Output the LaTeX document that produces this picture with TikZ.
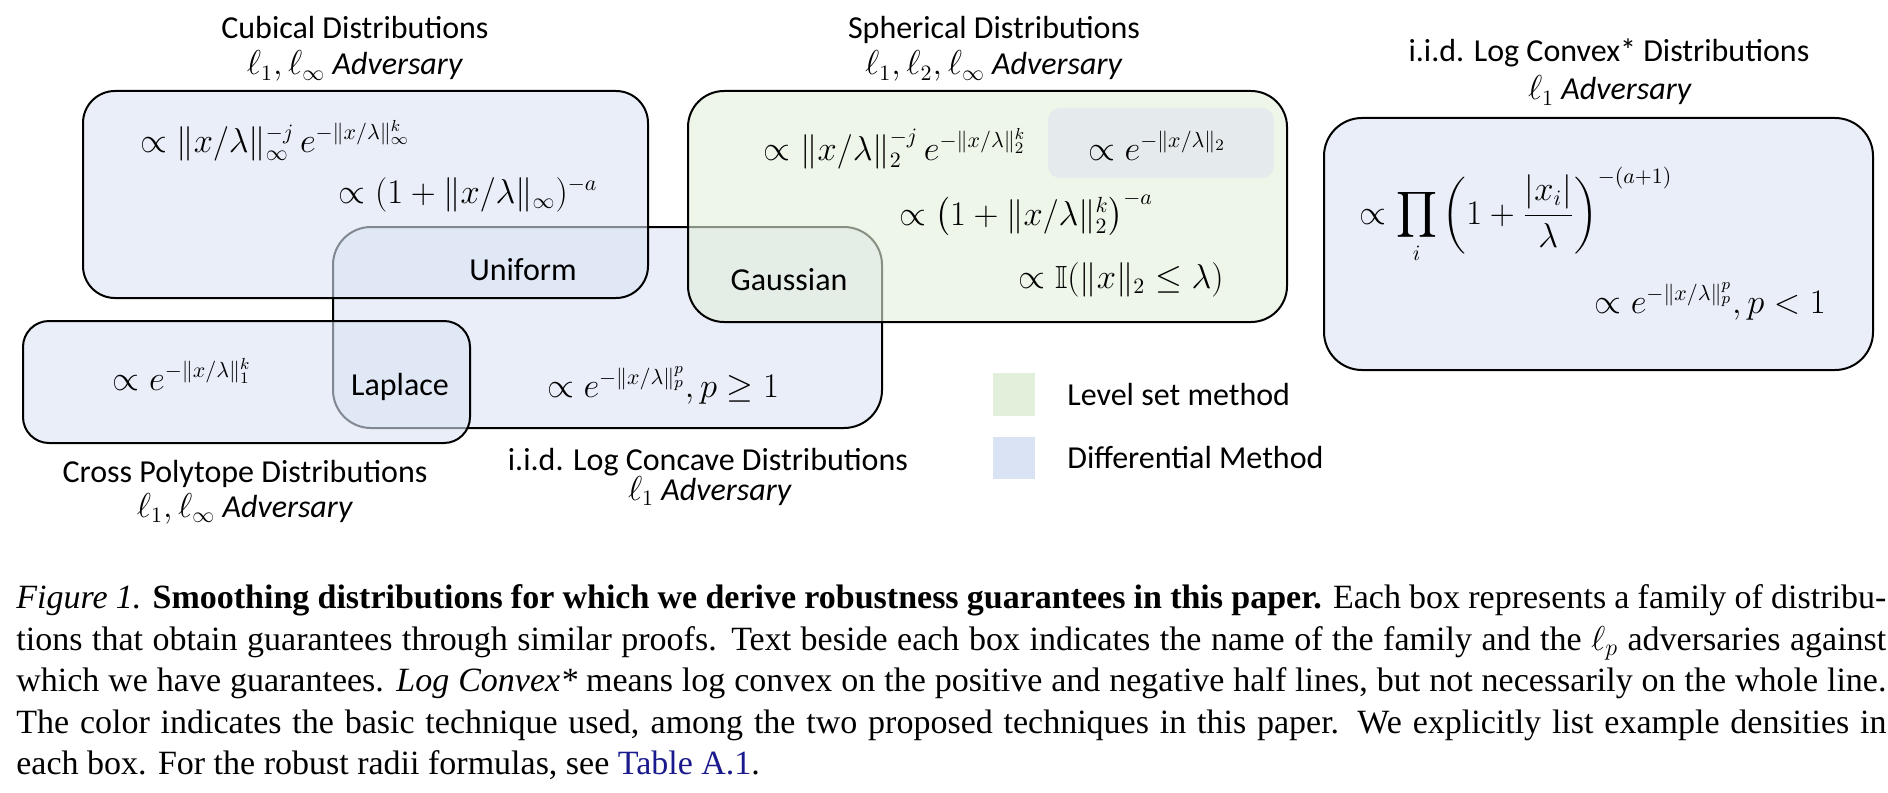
\documentclass[tikz,border=0pt]{standalone}
\usepackage{amsmath,amssymb}
\usepackage{fontspec}
\setmainfont{Liberation Serif}
\newfontfamily\calib{Carlito}
\definecolor{bluefill}{HTML}{DAE3F3}
\definecolor{greenfill}{HTML}{E2EFDA}
\definecolor{grayfill}{HTML}{E5EAEC}
\definecolor{linkblue}{HTML}{1A1A8C}
\tikzset{
  fam/.style={draw=black, line width=1pt},
  over/.style={fam, fill opacity=0.6},
  lbl/.style={font=\calib\fontsize{16}{19}\selectfont, inner sep=0pt, anchor=base},
  fm/.style={font=\fontsize{16}{19}\selectfont, inner sep=0pt, anchor=base},
  capl/.style={font=\fontsize{17}{20.75}\selectfont, inner sep=0pt, anchor=base west},
}
\begin{document}
\begin{tikzpicture}[x=0.5pt,y=-0.5pt]
\useasboundingbox (0,0) rectangle (1888,792);
% boxes
\draw[fam, fill=bluefill!60, rounded corners=19pt] (333,227) rectangle (882,428);
\draw[over, fill=bluefill, rounded corners=16pt] (83,91) rectangle (648,298);
\draw[over, fill=bluefill, rounded corners=13pt] (23,321) rectangle (470,443);
\draw[over, fill=greenfill, rounded corners=18pt] (688,91) rectangle (1287,322);
\fill[grayfill, rounded corners=6pt] (1048,108) rectangle (1274,178);
\draw[fam, fill=bluefill!60, rounded corners=19pt] (1324,118) rectangle (1873,370);
% legend
\fill[greenfill] (993,373) rectangle (1035,416);
\fill[bluefill] (993,437) rectangle (1035,479);
\node[lbl, anchor=base west] (lg1) at (1067,405) {Level set method};
\node[lbl, anchor=base west] (lg2) at (1067,468) {Differential Method};
% family labels
\node[lbl] (cub1) at (355,39) {Cubical Distributions};
\node[lbl] (cub2) at (355,75) {$\ell_1,\ell_\infty$ \textit{Adversary}};
\node[lbl] (sph1) at (994,39) {Spherical Distributions};
\node[lbl] (sph2) at (994,75) {$\ell_1,\ell_2,\ell_\infty$ \textit{Adversary}};
\node[lbl] (lcx1) at (1609,62) {i.i.d. Log Convex* Distributions};
\node[lbl] (lcx2) at (1610,100) {$\ell_1$ \textit{Adversary}};
\node[lbl] (crs1) at (245,482) {Cross Polytope Distributions};
\node[lbl] (crs2) at (245,517) {$\ell_1,\ell_\infty$ \textit{Adversary}};
\node[lbl] (lcv1) at (708,470) {i.i.d. Log Concave Distributions};
\node[lbl] (lcv2) at (710,500) {$\ell_1$ \textit{Adversary}};
% names
\node[lbl] (unif) at (523,280) {Uniform};
\node[lbl] (gaus) at (789,290) {Gaussian};
\node[lbl] (lapl) at (400,395) {Laplace};
% formulas
\node[fm] (c1) at (275,152) {$\propto \|x/\lambda\|_\infty^{-j}\, e^{-\|x/\lambda\|_\infty^k}$};
\node[fm] (c2) at (468,203) {$\propto (1+\|x/\lambda\|_\infty)^{-a}$};
\node[fm] (s1) at (895,160) {$\propto \|x/\lambda\|_2^{-j}\, e^{-\|x/\lambda\|_2^k}$};
\node[fm] (s2) at (1157,160) {$\propto e^{-\|x/\lambda\|_2}$};
\node[fm] (s3) at (1026,225) {$\propto \bigl(1+\|x/\lambda\|_2^k\bigr)^{-a}$};
\node[fm] (s4) at (1121,288) {$\propto \mathbb{I}(\|x\|_2 \le \lambda)$};
\node[fm] (v1) at (1516,224) {$\displaystyle\propto \prod_i \left(1+\frac{|x_i|}{\lambda}\right)^{-(a+1)}$};
\node[fm] (v2) at (1710,313) {$\propto e^{-\|x/\lambda\|_p^p}, p<1$};
\node[fm] (x1) at (182,390) {$\propto e^{-\|x/\lambda\|_1^k}$};
\node[fm] (x2) at (663,397) {$\propto e^{-\|x/\lambda\|_p^p}, p \ge 1$};
% caption
\node[capl] (cap1) at (16,608) {\hbox to 935pt{\textit{Figure 1.} \textbf{Smoothing distributions for which we derive robustness guarantees in this paper.} Each box represents a family of distribu-}};
\node[capl] (cap2) at (16,650) {\hbox to 935pt{tions that obtain guarantees through similar proofs. Text beside each box indicates the name of the family and the $\ell_p$ adversaries against}};
\node[capl] (cap3) at (16,691) {\hbox to 935pt{which we have guarantees. \textit{Log Convex*} means log convex on the positive and negative half lines, but not necessarily on the whole line.}};
\node[capl] (cap4) at (16,733) {\hbox to 935pt{The color indicates the basic technique used, among the two proposed techniques in this paper. We explicitly list example densities in}};
\node[capl] (cap5) at (16,774) {each box. For the robust radii formulas, see \textcolor{linkblue}{Table A.1}.};
\end{tikzpicture}
\end{document}
